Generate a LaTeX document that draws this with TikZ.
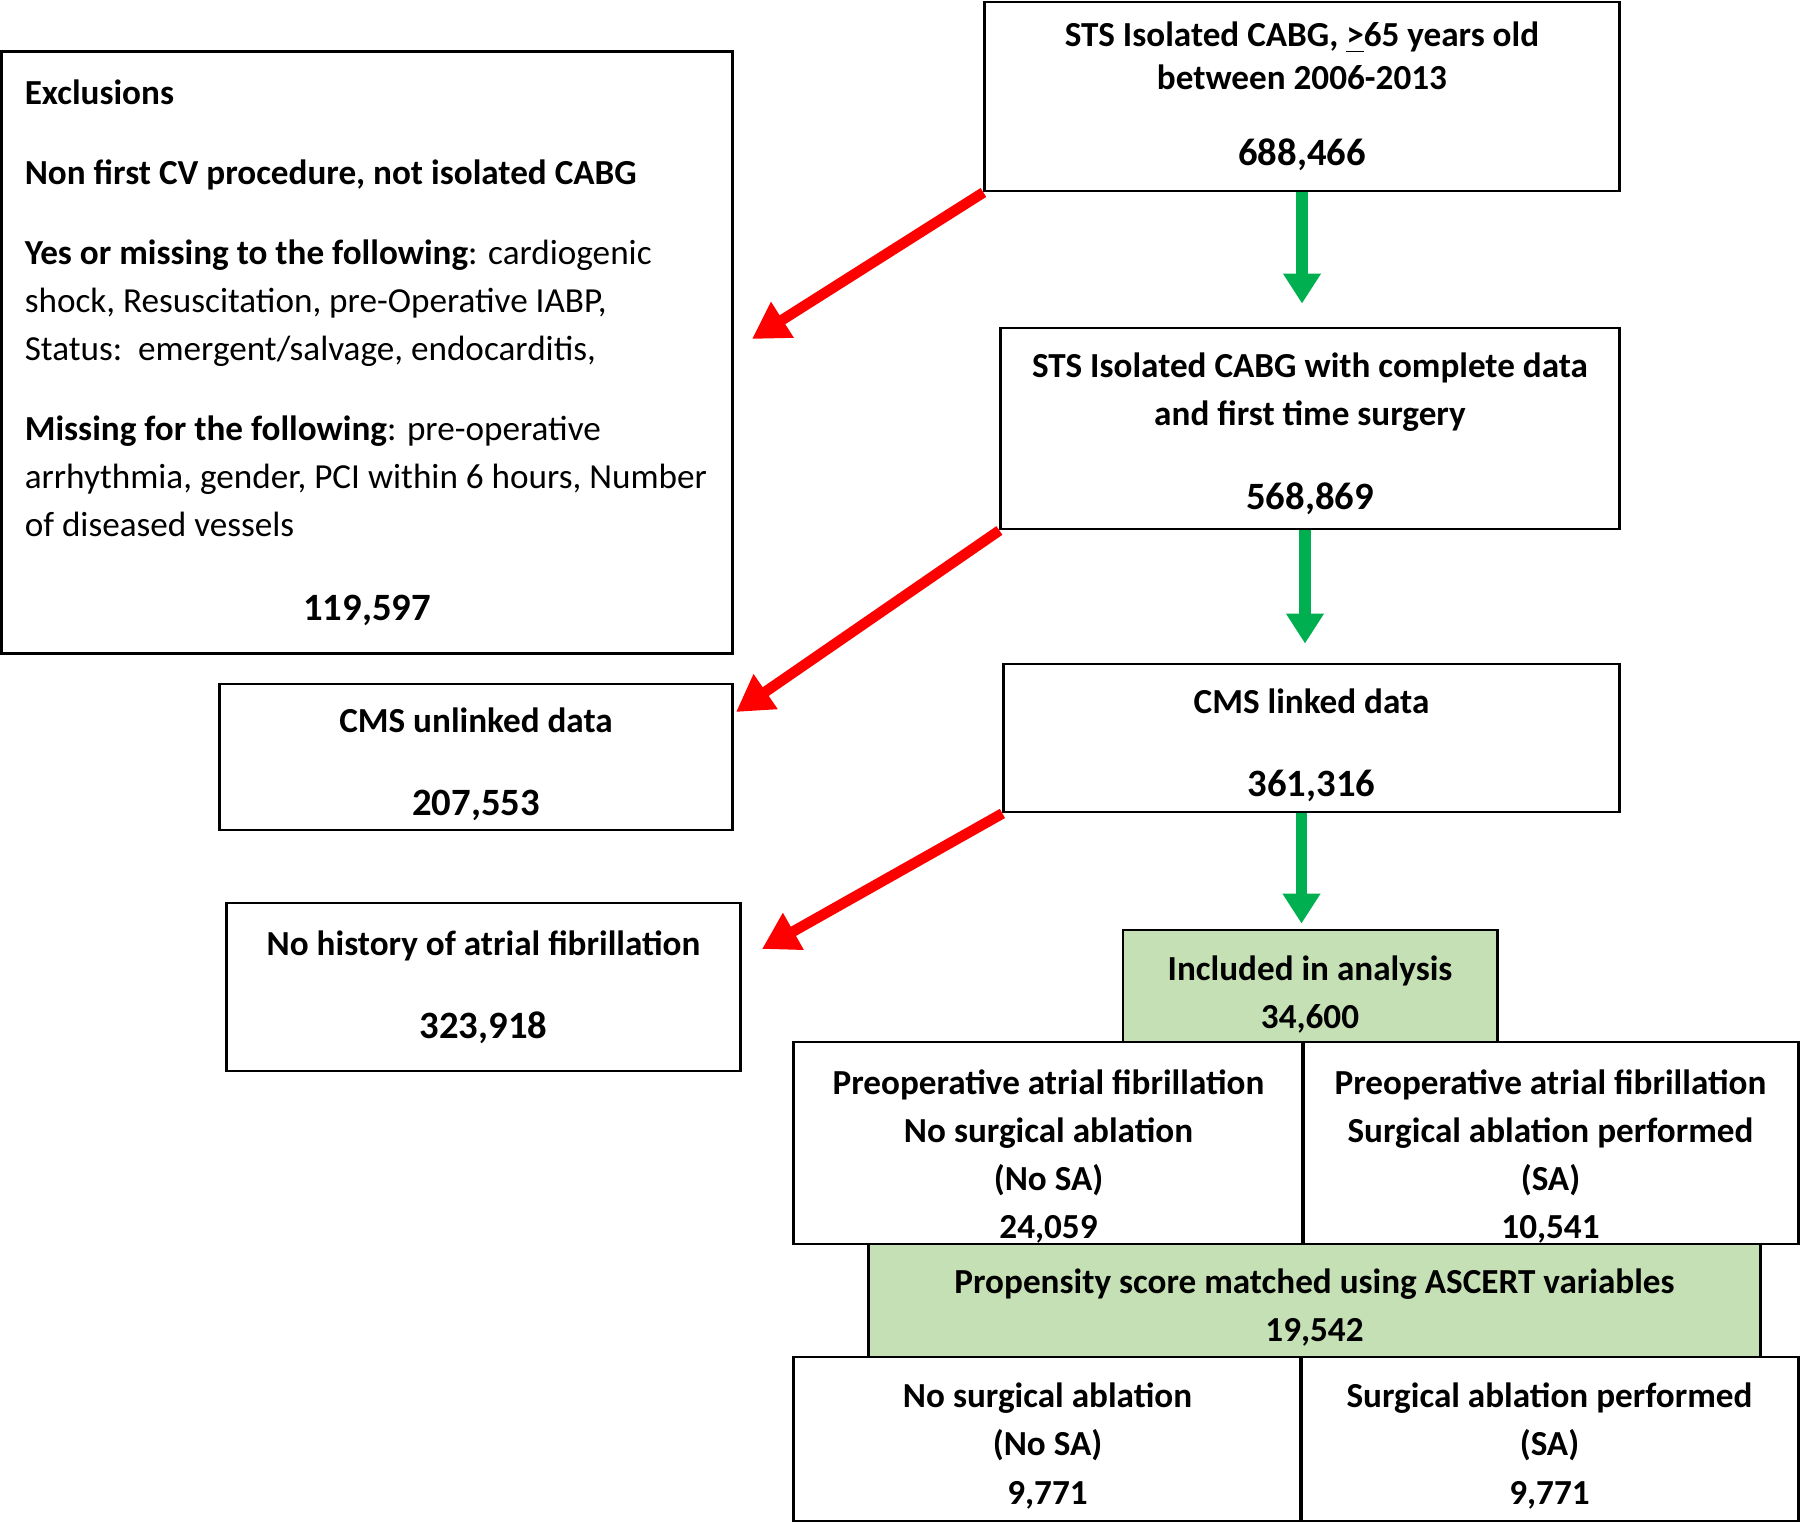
\documentclass[tikz,border=0pt]{standalone}
\usepackage{fontspec}
\setmainfont{Carlito}
\usetikzlibrary{arrows.meta}

\definecolor{boxgreen}{RGB}{197,224,180}
\definecolor{arrowgreen}{RGB}{0,176,80}
\newcommand{\bignum}[1]{{\fontsize{11pt}{13.66pt}\selectfont\bfseries #1}}
\newcommand{\dropline}[1]{\rule{0pt}{#1}}

\begin{document}
\begin{tikzpicture}[
        x=0.01cm, y=-0.01cm,
        font=\fontsize{10pt}{13.66pt}\selectfont,
        box/.style={rectangle, draw, line width=0.8pt, align=center, inner sep=0pt, font=\fontsize{10pt}{13.66pt}\selectfont\bfseries},
        greenbox/.style={box, fill=boxgreen},
        redarrow/.style={-{Triangle[length=0.36cm,width=0.40cm]}, line width=3pt, red},
        greenarrow/.style={-{Triangle[length=0.30cm,width=0.36cm]}, line width=3.2pt, arrowgreen}
    ]
        \useasboundingbox (0,0) rectangle (1800,1523);

        % Main flow
        \node[box, minimum width=6.34cm, minimum height=1.89cm] (sts) at (1302,96.5)
            {STS Isolated CABG, \underline{>}65 years old\\[-0.05cm]
             between 2006-2013\\[0.28cm]
             \bignum{688,466}};
        \node[box, minimum width=6.18cm, minimum height=2.01cm] (complete) at (1310,428.5)
            {\dropline{10pt}STS Isolated CABG with complete data\\
             and first time surgery\\[0.35cm]
             \bignum{568,869}};
        \node[box, minimum width=6.15cm, minimum height=1.48cm] (linked) at (1311.5,738)
            {\dropline{11pt}CMS linked data\\[0.35cm]
             \bignum{361,316}};
        \node[greenbox, minimum width=3.74cm, minimum height=1.12cm] (incl) at (1310,986)
            {\dropline{12pt}Included in analysis\\34,600};

        % Excluded boxes
        \node[rectangle, draw, line width=0.8pt, align=left, inner sep=0pt,
              minimum width=7.30cm, minimum height=6.01cm] (excl) at (367,352.5)
            {\textbf{Exclusions}\\[0.32cm]
             \textbf{Non first CV procedure, not isolated CABG}\\[0.32cm]
             \textbf{Yes or missing to the following}: cardiogenic\\
             shock, Resuscitation, pre-Operative IABP,\\
             Status:\ \ emergent/salvage, endocarditis,\\[0.32cm]
             \textbf{Missing for the following}: pre-operative\\
             arrhythmia, gender, PCI within 6 hours, Number\\
             of diseased vessels\\[0.36cm]
             \makebox[6.84cm]{\bignum{119,597}}};
        \node[box, minimum width=5.12cm, minimum height=1.46cm] (unlinked) at (476,757)
            {\dropline{11pt}CMS unlinked data\\[0.35cm]
             \bignum{207,553}};
        \node[box, minimum width=5.13cm, minimum height=1.68cm] (nohist) at (483.5,987)
            {No history of atrial fibrillation\\[0.35cm]
             \bignum{323,918}};

        % Groups
        \node[box, minimum width=5.09cm, minimum height=2.02cm] (preno) at (1048.5,1143)
            {\dropline{14.5pt}Preoperative atrial fibrillation\\No surgical ablation\\(No SA)\\24,059};
        \node[box, minimum width=4.95cm, minimum height=2.02cm] (presa) at (1550.5,1143)
            {\dropline{14.5pt}Preoperative atrial fibrillation\\Surgical ablation performed\\(SA)\\10,541};
        \node[greenbox, minimum width=8.91cm, minimum height=1.13cm] (psm) at (1314.5,1300.5)
            {\dropline{11pt}Propensity score matched using ASCERT variables\\19,542};
        \node[box, minimum width=5.07cm, minimum height=1.64cm] (matchno) at (1047.5,1439)
            {\dropline{11pt}No surgical ablation\\(No SA)\\9,771};
        \node[box, minimum width=4.97cm, minimum height=1.64cm] (matchsa) at (1549.5,1439)
            {\dropline{11pt}Surgical ablation performed\\(SA)\\9,771};

        % Arrow ends
        \coordinate (exclend) at (752,339);
        \coordinate (unlinkedend) at (736,712);
        \coordinate (nohistend) at (762,949);

        % Connessioni
        \draw[greenarrow, shorten >=0.23cm] (sts.south) -- (sts.south |- complete.north);
        \draw[greenarrow, shorten >=0.19cm] ([xshift=-0.05cm]complete.south) -- ([xshift=-0.05cm]complete.south |- linked.north);
        \draw[greenarrow, shorten >=0.05cm] ([xshift=-0.1cm]linked.south) -- ([xshift=-0.1cm]linked.south |- incl.north);

        \draw[redarrow] (sts.south west) -- (exclend);
        \draw[redarrow] (complete.south west) -- (unlinkedend);
        \draw[redarrow] (linked.south west) -- (nohistend);
    \end{tikzpicture}
\end{document}
